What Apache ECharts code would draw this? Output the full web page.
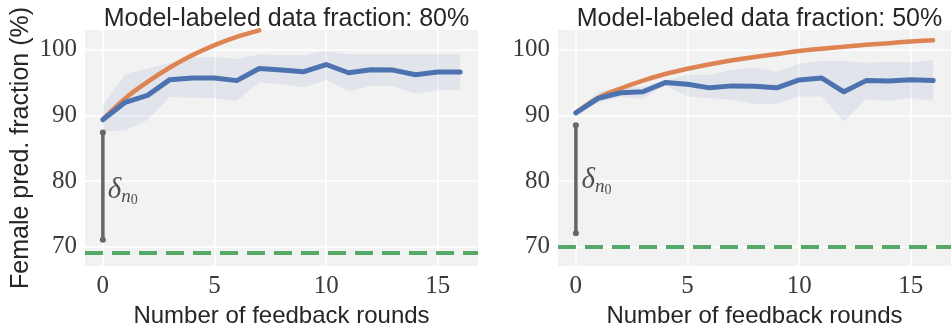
<!DOCTYPE html>
<html><head><meta charset="utf-8">
<script src="https://cdn.jsdelivr.net/npm/echarts@6/dist/echarts.min.js"></script>
<style>html,body{margin:0;padding:0;background:#fff}#c{width:952px;height:324px}</style>
</head><body><div id="c"></div>
<script>
// ---- data ----
const rounds = [0,1,2,3,4,5,6,7,8,9,10,11,12,13,14,15,16];
const xTicks = [0,5,10,15];
const yTicks = [70,80,90,100];
const titles = ['Model-labeled data fraction: 80%', 'Model-labeled data fraction: 50%'];

// panel 1 (80%)
const blueA  = [89.35,92.0,93.05,95.45,95.7,95.7,95.3,97.15,96.9,96.65,97.75,96.5,96.95,96.9,96.2,96.6,96.6];
const upperA = [91.5,96.3,97.1,98.0,98.8,98.9,98.6,99.3,99.2,99.15,99.8,99.3,99.3,99.3,99.3,99.3,99.3];
const lowerA = [87.6,87.7,89.3,92.8,92.7,92.6,92.2,95.0,94.8,94.25,95.4,93.7,94.5,94.45,93.3,93.85,93.85];
const orangeA = [89.4,92.6,95.1,97.3,99.15,100.7,101.95,102.95];
const baseA = 69.15;
const arrowA = [87.4, 71.1];
const deltaA = [0.22, 78.6];

// panel 2 (50%)
const blueB  = [90.4,92.6,93.45,93.6,95.0,94.75,94.2,94.5,94.45,94.2,95.4,95.7,93.6,95.3,95.25,95.45,95.3];
const upperB = [90.5,93.6,94.2,94.4,95.3,96.2,96.2,96.9,97.35,96.7,97.85,98.3,98.3,98.0,98.15,98.1,98.4];
const lowerB = [90.3,91.9,92.8,92.5,94.6,92.9,92.6,92.4,91.7,91.8,92.9,92.9,89.1,92.45,92.2,92.65,92.2];
const orangeB = [90.4,92.7,94.1,95.3,96.3,97.1,97.8,98.4,98.9,99.35,99.8,100.15,100.45,100.75,101.0,101.25,101.45];
const baseB = 70.0;
const arrowB = [88.5, 72.1];
const deltaB = [0.25, 80.1];

// ---- style ----
const BLUE='#4c72b0', ORANGE='#dd8452', GREEN='#55a868', GREY='#666666';
const SERIF='"Liberation Serif", serif', SANS='"Liberation Sans", sans-serif';
const panels = [
  {left:85, blue:blueA, upper:upperA, lower:lowerA, orange:orangeA, base:baseA, arrow:arrowA, delta:deltaA},
  {left:558, blue:blueB, upper:upperB, lower:lowerB, orange:orangeB, base:baseB, arrow:arrowB, delta:deltaB}
];
const W=393, H=236, TOP=30;

const option = {animation:false, backgroundColor:'#fff', grid:[], xAxis:[], yAxis:[], series:[], title:[]};
panels.forEach((p,i)=>{
  option.grid.push({left:p.left, top:TOP, width:W, height:H, show:true, backgroundColor:'#f2f2f2', borderWidth:0,
    containLabel:false, outerBoundsMode:'none'});
  option.title.push({text:titles[i], left:p.left+W/2, top:2, textAlign:'center',
    textStyle:{fontFamily:SANS, fontSize:25, fontWeight:'normal', color:'#262626'}});
  option.xAxis.push({type:'value', gridIndex:i, min:-0.8, max:16.8,
    name: 'Number of feedback rounds', nameLocation:'middle', nameGap:33,
    nameTextStyle:{fontFamily:SANS, fontSize:24, color:'#262626'},
    axisLine:{show:false}, axisTick:{show:false, customValues:xTicks},
    axisLabel:{customValues:xTicks, fontFamily:SERIF, fontSize:25, color:'#3a3a3a', margin:8},
    splitLine:{show:false}});
  option.yAxis.push({type:'value', gridIndex:i, min:67.1, max:103,
    name: i===0 ? 'Female pred. fraction (%)' : '', nameLocation:'middle', nameGap:51,
    nameTextStyle:{fontFamily:SANS, fontSize:25, color:'#262626'},
    axisLine:{show:false}, axisTick:{show:false, customValues:yTicks},
    axisLabel:{customValues:yTicks, fontFamily:SERIF, fontSize:25, color:'#3a3a3a', margin:8},
    splitLine:{show:false}});
  const pts = a => a.map((v,k)=>[rounds[k], v]);
  // grid lines (white)
  option.series.push({type:'line', xAxisIndex:i, yAxisIndex:i, data:[], silent:true, z:1,
    markLine:{silent:true, z:1, symbol:'none', label:{show:false}, animation:false,
      lineStyle:{color:'#ffffff', width:1.5, type:'solid'},
      data: xTicks.map(v=>({xAxis:v})).concat(yTicks.map(v=>({yAxis:v})))}});
  // band (polygon between lower and upper)
  option.series.push({type:'custom', xAxisIndex:i, yAxisIndex:i, z:2, silent:true,
    data: rounds.map((r,k)=>[r, p.lower[k], p.upper[k]]),
    renderItem: (params, api) => {
      if (params.dataIndex !== 0) return null;
      const top = rounds.map((r,k)=>api.coord([r, p.upper[k]]));
      const bot = rounds.map((r,k)=>api.coord([r, p.lower[k]])).reverse();
      return {type:'polygon', shape:{points: top.concat(bot)},
        style:{fill:BLUE, opacity:0.1}};
    }});
  // baseline
  option.series.push({type:'line', xAxisIndex:i, yAxisIndex:i, data:[], z:3,
    markLine:{silent:true, z:3, symbol:'none', label:{show:false}, animation:false,
      lineStyle:{color:GREEN, width:4, type:[18,9], cap:'butt'},
      data:[{yAxis:p.base}]}});
  // arrow
  option.series.push({type:'line', xAxisIndex:i, yAxisIndex:i, data:[[0,p.arrow[0]],[0,p.arrow[1]]], z:6,
    symbol:'circle', symbolSize:6, itemStyle:{color:GREY}, lineStyle:{color:GREY, width:3.5}});
  // orange
  option.series.push({type:'line', xAxisIndex:i, yAxisIndex:i, data:pts(p.orange), smooth:0.4, z:7,
    symbol:'none', lineStyle:{color:ORANGE, width:4.5, cap:'round'}});
  // blue
  option.series.push({type:'line', xAxisIndex:i, yAxisIndex:i, data:pts(p.blue), z:8,
    symbol:'none', lineStyle:{color:BLUE, width:5, cap:'round', join:'round'}});
  // delta label
  option.series.push({type:'scatter', xAxisIndex:i, yAxisIndex:i, data:[p.delta], symbolSize:0, z:9,
    label:{show:true, position:'right', distance:0, formatter:'{d|δ}{s|n}{z|0}',
      rich:{
        d:{fontFamily:SERIF, fontStyle:'italic', fontSize:29, color:'#262626', lineHeight:30, verticalAlign:'top'},
        s:{fontFamily:SERIF, fontStyle:'italic', fontSize:19, color:'#262626', lineHeight:18, padding:[12,0,0,0], verticalAlign:'top'},
        z:{fontFamily:SERIF, fontSize:14, color:'#262626', lineHeight:14, padding:[18,0,0,0], verticalAlign:'top'}
      }}});
});
const chart = echarts.init(document.getElementById('c'), null, {renderer:'canvas'});
chart.setOption(option);
</script></body></html>
